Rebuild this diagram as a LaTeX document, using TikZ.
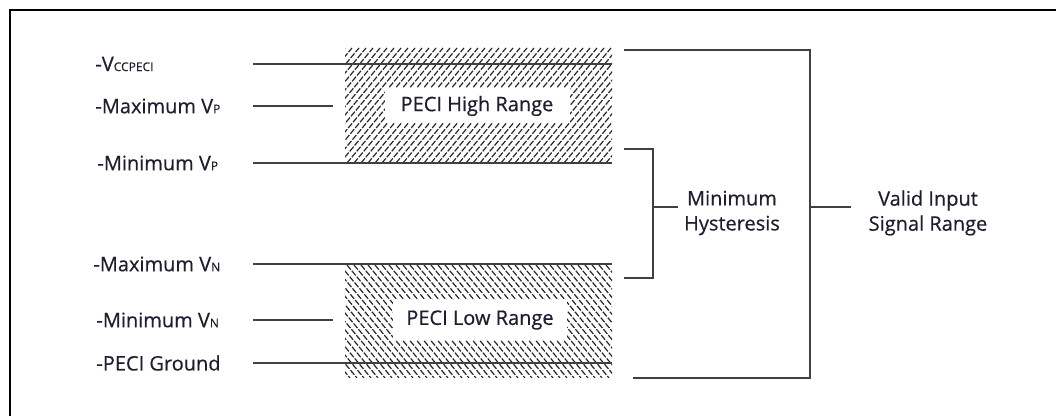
\documentclass[tikz,border=0pt]{standalone}
\usepackage{fontspec}
\setmainfont{Open Sans}[FakeBold=0.5]
\definecolor{ink}{HTML}{1E1E30}
\newcommand{\lowcap}[1]{{\fontsize{6}{6}\selectfont #1}}

\begin{document}
\begin{tikzpicture}[x=0.5pt, y=-0.5pt,
		lbl/.style={anchor=west, inner sep=0pt, text=ink, font=\fontsize{10}{12}\selectfont},
		txt/.style={align=center, inner sep=0pt, text=ink, font=\fontsize{10}{12.5}\selectfont},
		level/.style={draw=black!75, line width=0.8pt},
		hatch/.style={draw=black!85, line width=0.6pt, dash pattern=on 3pt off 0.8pt},
		rangebox/.style={fill=white, inner sep=0pt, text=ink, font=\fontsize{10}{12}\selectfont}]
		\useasboundingbox (0,0) rectangle (1056,416);
		
		% Rahmen
		\draw[line width=0.8pt] (1056,10) -- (10,10) -- (10,416);
		
		% Schraffur oben
		\begin{scope}
			\clip (345,48) rectangle (612,163);
			\foreach \x in {249,256,...,612}
				\draw[hatch] (\x,163) -- ++(96,-115);
		\end{scope}
		
		% Schraffur unten
		\begin{scope}
			\clip (345,265) rectangle (612,378);
			\foreach \x in {249,256,...,612}
				\draw[hatch] (\x,265) -- ++(94,113);
		\end{scope}
		
		\node[rangebox, minimum width=92.5pt, minimum height=17.5pt] (high) at (477,106) {PECI High Range};
		\node[rangebox, minimum width=87pt, minimum height=20pt] (low) at (480,320) {PECI Low Range};
		
		% Pegel
		\node[lbl] (vcc) at (95,64) {-V\lowcap{CCPECI}};
		\node[lbl] (maxp) at (95,106) {-Maximum V\lowcap{P}};
		\node[lbl] (minp) at (97,163) {-Minimum V\lowcap{P}};
		\node[lbl] (maxn) at (93,264) {-Maximum V\lowcap{N}};
		\node[lbl] (minn) at (96,320) {-Minimum V\lowcap{N}};
		\node[lbl] (gnd) at (96,363) {-PECI Ground};
		
		\draw[level] (253,64) -- (612,64);
		\draw[level] (253,106) -- (333,106);
		\draw[level] (253,163) -- (612,163);
		\draw[level] (253,264) -- (612,264);
		\draw[level] (253,320) -- (333,320);
		\draw[level] (253,363) -- (612,363);
		
		% Klammern
		\node[txt] (hyst) at (732,213) {Minimum\\Hysteresis};
		\node[txt] (valid) at (928,213) {Valid Input\\Signal Range};
		
		\draw[level] (624,149) -- (653,149) -- (653,278) -- (624,278);
		\draw[level] (653,207) -- (678,207);
		\draw[level] (624,50) -- (810,50) -- (810,378) -- (633,378);
		\draw[level] (810,207) -- (851,207);
\end{tikzpicture}
\end{document}
